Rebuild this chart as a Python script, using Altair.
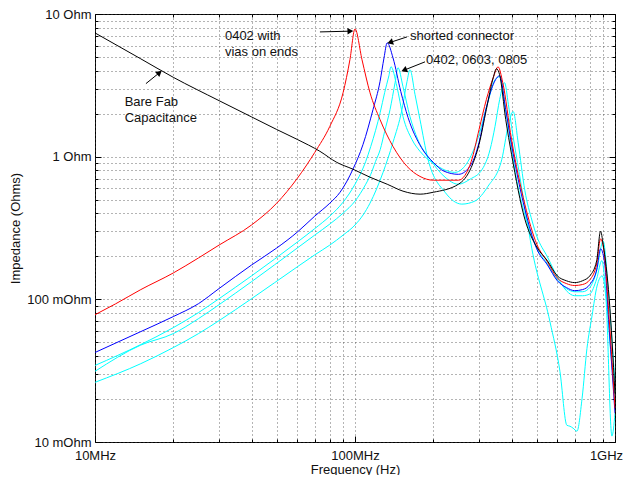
import altair as alt
import pandas as pd

# ---------------- data (frequency in MHz, impedance in Ohm) ----------------
black_f = [10, 15, 20, 30, 40, 50, 60, 73.3, 85.1, 98.2, 114.2, 133, 153, 178, 200, 250, 280, 300, 320,
           340, 350, 360, 380, 400, 450, 500, 550, 600, 650, 700, 750, 800, 850, 880, 900, 950, 1000]
black_z = [7.37, 4.85, 3.60, 2.47, 1.90, 1.55, 1.32, 1.09, 0.912, 0.817, 0.718, 0.641, 0.573, 0.546,
           0.563, 0.641, 0.841, 1.22, 2.14, 3.57, 4.13, 3.75, 1.82, 1.04, 0.365, 0.233, 0.186, 0.146,
           0.135, 0.131, 0.135, 0.146, 0.186, 0.301, 0.244, 0.101, 0.0219]

red_f = [10, 12, 15, 20, 25, 30, 40, 50, 60, 70, 80, 90, 95.6, 100, 106.4, 114.2, 124.8, 140,
         158.5, 177.8, 200, 250, 280, 300, 320, 340, 355, 370, 400, 450, 500, 550, 600, 650, 700, 750,
         800, 850, 880, 910, 950, 1000]
red_z = [0.078, 0.093, 0.117, 0.153, 0.195, 0.240, 0.332, 0.472, 0.705, 1.07, 1.63, 2.81, 4.78,
         7.86, 4.78, 2.81, 1.82, 1.18, 0.855, 0.727, 0.684, 0.684, 0.927, 1.55, 2.51, 3.57, 4.26, 3.31,
         1.32, 0.464, 0.244, 0.183, 0.141, 0.129, 0.125, 0.127, 0.137, 0.177, 0.265, 0.208, 0.073, 0.0172]

blue_f = [10, 15, 20, 25, 30, 40, 50, 60, 70, 80, 87.6, 98.2, 107.4, 117.3, 124.8, 129.3, 133,
          140, 150, 160, 180, 200, 220, 250, 280, 300, 320, 340, 360, 380, 400, 450, 500, 550, 600, 650,
          700, 750, 800, 850, 880, 910, 950, 1000]
blue_z = [0.0424, 0.0594, 0.0757, 0.0932, 0.119, 0.174, 0.229, 0.296, 0.383, 0.472, 0.563, 0.817,
          1.22, 2.14, 3.36, 4.93, 6.28, 4.93, 2.86, 1.88, 1.16, 0.912, 0.791, 0.752, 0.884,
          1.26, 2.21, 3.20, 3.69, 2.14, 1.22, 0.429, 0.226, 0.174, 0.135, 0.121, 0.115, 0.117, 0.127,
          0.161, 0.226, 0.186, 0.0622, 0.0159]

cyan1_f = [10, 15, 20, 25, 30, 40, 60, 70, 80, 90, 100, 110, 115, 120, 125, 130, 135, 137.5, 145, 153,
           165.6, 177.8, 203, 242, 264, 296, 324, 345.6, 360, 382, 418, 455, 500, 550, 600, 650, 700, 750,
           800, 850, 900, 950, 1000]
cyan1_z = [0.0344, 0.0482, 0.0633, 0.0807, 0.101, 0.146, 0.252, 0.313, 0.383, 0.480, 0.641, 0.927,
           1.18, 1.53, 2.04, 2.81, 3.69, 4.27, 3.09, 1.91, 1.32, 1.09, 0.883, 0.776, 0.855, 1.32, 2.39,
           3.46, 3.63, 1.97, 0.695, 0.365, 0.229, 0.177, 0.137, 0.119, 0.113, 0.113, 0.121, 0.158, 0.256,
           0.0932, 0.0258]

cyan2_f = [10, 15, 20, 25, 30, 40, 60, 70, 80, 90, 100, 110, 115, 120, 125, 130, 136.4, 142.6, 146.3, 153,
           162.7, 174.4, 194.3, 222, 249.5, 277, 308.7, 330.7, 345.6, 360, 376, 389, 400, 429, 455, 479,
           562, 614, 653, 671, 690, 714, 747, 780, 816, 853, 892, 923, 973, 1000]
cyan2_z = [0.0313, 0.0478, 0.0575, 0.0732, 0.0917, 0.133, 0.229, 0.282, 0.337, 0.402, 0.488, 0.641,
           0.752, 0.927, 1.12, 1.50, 2.14, 3.30, 4.20, 3.09, 1.91, 1.32, 0.958, 0.718, 0.641, 0.695, 0.817,
           1.12, 1.63, 2.51, 3.30, 2.32, 1.63, 0.753, 0.391, 0.226, 0.0698, 0.0313, 0.0131, 0.0129,
           0.0125, 0.0119, 0.0202, 0.0452, 0.0767, 0.124, 0.146, 0.101, 0.011, 0.0159]

cyan3_f = [10, 15, 20, 25, 30, 40, 60, 70, 80, 90, 100, 107.4, 114.2, 128.2, 140, 151.6, 158.5, 162.7,
           170.2, 177.8, 190.9, 222, 257.6, 289, 325, 367, 388, 406, 424, 450, 480, 500, 550, 600, 650,
           700, 750, 800, 850, 890, 920, 960, 1000]
cyan3_z = [0.0262, 0.0354, 0.0459, 0.0575, 0.0709, 0.101, 0.169, 0.205, 0.240, 0.282, 0.332, 0.390,
           0.472, 0.776, 1.26, 2.14, 3.36, 4.07, 2.72, 1.82, 0.958, 0.563, 0.465, 0.488, 0.621, 0.958,
           1.63, 2.07, 1.26, 0.58, 0.354, 0.278, 0.198, 0.144, 0.115, 0.106, 0.106, 0.109, 0.139, 0.187,
           0.119, 0.0452, 0.0202]

series = [
    ("cyan1", "#00ffff", cyan1_f, cyan1_z),
    ("cyan2", "#00ffff", cyan2_f, cyan2_z),
    ("cyan3", "#00ffff", cyan3_f, cyan3_z),
    ("blue", "#0000ff", blue_f, blue_z),
    ("red", "#ff0000", red_f, red_z),
    ("black", "#000000", black_f, black_z),
]

# annotations (data coordinates)
ann_text = ["0402 with", "vias on ends", "shorted connector", "0402, 0603, 0805", "Bare Fab", "Capacitance"]
ann_f = [31.6, 31.6, 162.7, 187.5, 13.0, 13.0]
ann_z = [7.02, 5.43, 7.02, 4.78, 2.43, 1.88]

arr_f1 = [73.3, 158.5, 185.9, 15.7]
arr_z1 = [7.49, 6.91, 4.62, 3.25]
arr_f2 = [96.0, 136.5, 154.5, 17.7]
arr_z2 = [7.58, 6.32, 4.04, 3.88]
arr_angle = [358, 162, 158, 321]

x_ticks = [10, 20, 30, 40, 50, 60, 70, 80, 90, 100, 200, 300, 400, 500, 600, 700, 800, 900, 1000]
y_ticks = [0.01, 0.02, 0.03, 0.04, 0.05, 0.06, 0.07, 0.08, 0.09, 0.1, 0.2, 0.3, 0.4, 0.5, 0.6, 0.7,
           0.8, 0.9, 1, 2, 3, 4, 5, 6, 7, 8, 9, 10]

# ---------------- build tables ----------------
rows = []
for name, col, fs, zs in series:
    for i, (f, z) in enumerate(zip(fs, zs)):
        rows.append({"series": name, "f": f, "z": z, "i": i})
df = pd.DataFrame(rows)
names = [s[0] for s in series]
colors = [s[1] for s in series]

ann_df = pd.DataFrame({"f": ann_f, "z": ann_z, "text": ann_text})
arr_df = pd.DataFrame({"f": arr_f1, "z": arr_z1, "f2": arr_f2, "z2": arr_z2, "angle": arr_angle})

W, H = 520, 428
FONT = "Liberation Sans"
xscale = alt.Scale(type="log", domain=[10, 1000], nice=False)
yscale = alt.Scale(type="log", domain=[0.01, 10], nice=False)

xlab = ("datum.value == 10 ? '10MHz' : (datum.value == 100 ? '100MHz' : "
        "(datum.value == 1000 ? '1GHz' : ''))")
ylab = ("abs(datum.value - 10) < 1e-9 ? '10 Ohm' : (abs(datum.value - 1) < 1e-9 ? '1 Ohm' : "
        "(abs(datum.value - 0.1) < 1e-9 ? '100 mOhm' : (abs(datum.value - 0.01) < 1e-9 ? '10 mOhm' : '')))")
x_major = "datum.value == 10 || datum.value == 100 || datum.value == 1000"
y_major = ("abs(datum.value - 10) < 1e-9 || abs(datum.value - 1) < 1e-9 || "
           "abs(datum.value - 0.1) < 1e-9 || abs(datum.value - 0.01) < 1e-9")

main_x_axis = alt.Axis(orient="bottom", values=x_ticks, labelExpr=xlab, title="Frequency (Hz)",
                       grid=True, gridDash=[1, 3], gridColor="#444", gridOpacity=0.8,
                       ticks=False, domain=False, labelPadding=7, labelFlush=False,
                       labelOffset=alt.condition("datum.value == 1000", alt.value(-9), alt.value(0)),
                       labelOverlap=False, titleY=31, titleBaseline="alphabetic")
main_y_axis = alt.Axis(orient="left", values=y_ticks, labelExpr=ylab, title="Impedance (Ohms)",
                       grid=True, gridDash=[1, 3], gridColor="#444", gridOpacity=0.8,
                       ticks=False, domain=False, labelPadding=4, labelOverlap=False,
                       titleX=-80, titleBaseline="middle")

lines = alt.Chart(df).mark_line(strokeWidth=1, interpolate="monotone", clip=True).encode(
    x=alt.X("f:Q", scale=xscale, axis=main_x_axis),
    y=alt.Y("z:Q", scale=yscale, axis=main_y_axis),
    color=alt.Color("series:N", scale=alt.Scale(domain=names, range=colors), legend=None),
    order="i:Q",
    detail="series:N",
)

def tick_axis(orient, offset):
    horiz = orient in ("top", "bottom")
    return alt.Axis(orient=orient, offset=offset, values=x_ticks if horiz else y_ticks,
                    labels=False, title=None, grid=False, domain=False, ticks=True,
                    tickSize=alt.condition(x_major if horiz else y_major, alt.value(6), alt.value(3)),
                    tickColor="black", tickWidth=1)

ticksA = alt.Chart(df).mark_point(opacity=0).encode(
    x=alt.X("f:Q", scale=xscale, axis=tick_axis("top", -H)),
    y=alt.Y("z:Q", scale=yscale, axis=tick_axis("right", -W)),
)
ticksB = alt.Chart(df).mark_point(opacity=0).encode(
    x=alt.X("f:Q", scale=xscale, axis=tick_axis("bottom", -H)),
    y=alt.Y("z:Q", scale=yscale, axis=tick_axis("left", -W)),
)

arrows = alt.Chart(arr_df).mark_rule(color="black", strokeWidth=1).encode(
    x=alt.X("f:Q", scale=xscale, axis=None),
    y=alt.Y("z:Q", scale=yscale, axis=None),
    x2="f2:Q", y2="z2:Q",
)
heads = alt.Chart(arr_df).mark_point(shape="triangle-right", filled=True, color="black",
                                     size=45, opacity=1).encode(
    x=alt.X("f2:Q", scale=xscale, axis=None),
    y=alt.Y("z2:Q", scale=yscale, axis=None),
    angle=alt.Angle("angle:Q", scale=None),
)
texts = alt.Chart(ann_df).mark_text(align="left", baseline="middle", font=FONT, fontSize=13,
                                    color="#111").encode(
    x=alt.X("f:Q", scale=xscale, axis=None),
    y=alt.Y("z:Q", scale=yscale, axis=None),
    text="text:N",
)

chart = alt.layer(lines, ticksA, ticksB, arrows, heads, texts).resolve_axis(
    x="independent", y="independent"
).properties(
    width=W, height=H,
    autosize=alt.AutoSizeParams(type="none"),
    padding={"left": 87, "top": 6, "right": 9, "bottom": 33},
    background="white",
).configure_view(
    stroke="black", strokeWidth=1
).configure_axis(
    labelFont=FONT, titleFont=FONT, labelFontSize=13, titleFontSize=13,
    labelColor="#111", titleColor="#111", titleFontWeight="normal",
)

chart.save("out.html", embed_options={"renderer": "svg", "actions": False})
